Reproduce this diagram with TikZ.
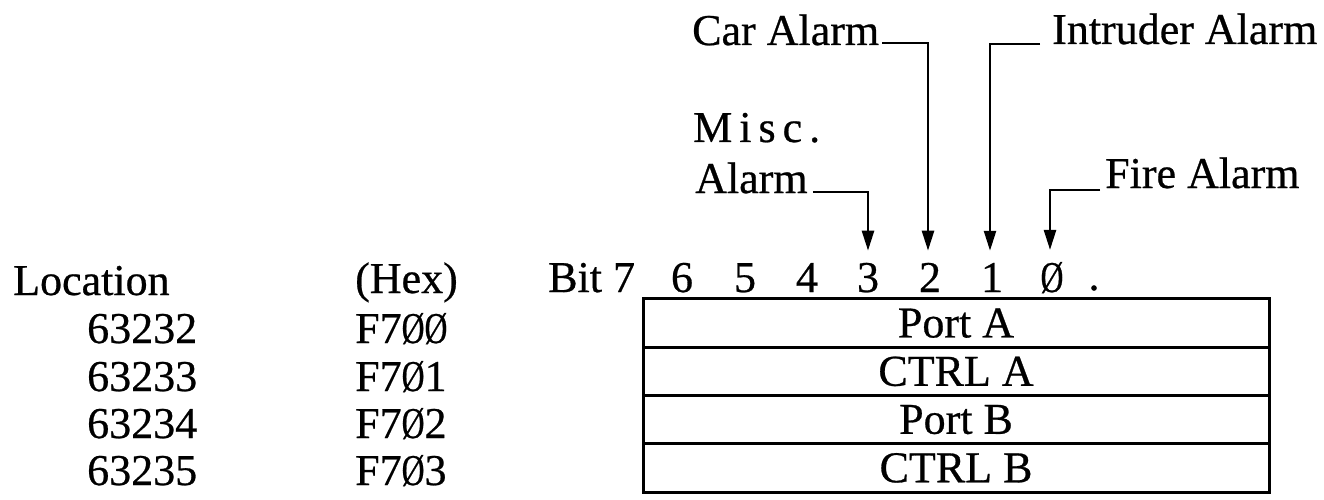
\documentclass[tikz,border=0pt]{standalone}
\usepackage{fontspec}
\usepackage{graphicx}
\setmainfont{Liberation Serif}[FakeBold=0.6]
\newfontfamily\heavyserif{Liberation Serif}[FakeBold=0.6]
\usetikzlibrary{arrows.meta}
\newcommand{\slz}{\scalebox{0.72}[1]{Ø}}
\tikzset{
  lbl/.style={inner sep=0pt, anchor=base west, font=\heavyserif\fontsize{44}{50}\selectfont},
  bitnum/.style={inner sep=0pt, anchor=base, font=\heavyserif\fontsize{44}{50}\selectfont},
  regrow/.style={draw, line width=3pt, minimum width=626pt, minimum height=48.25pt,
                 inner sep=0pt, font=\heavyserif\fontsize{44}{50}\selectfont},
  conn/.style={line width=2.5pt, -{Triangle[length=20pt,width=12pt]}}
}
\begin{document}
\begin{tikzpicture}[x=1pt,y=-1pt]
\useasboundingbox (0,0) rectangle (1324,500);
% column headings
\node[lbl] (loc) at (13,295) {Location};
\node[lbl] (hex) at (355,293) {(Hex)};
\node[lbl] (bit) at (548,292) {Bit 7};
% locations
\node[lbl] (l0) at (87,343) {63232};
\node[lbl] (l1) at (87,391) {63233};
\node[lbl] (l2) at (87,438) {63234};
\node[lbl] (l3) at (87,485) {63235};
\node[lbl] (h0) at (355,343) {F7\slz\slz};
\node[lbl] (h1) at (355,391) {F7\slz1};
\node[lbl] (h2) at (355,438) {F7\slz2};
\node[lbl] (h3) at (355,485) {F7\slz3};
% bit numbers
\node[bitnum] (b6) at (682,292) {6};
\node[bitnum] (b5) at (745,292) {5};
\node[bitnum] (b4) at (807,292) {4};
\node[bitnum] (b3) at (868,292) {3};
\node[bitnum] (b2) at (930,292) {2};
\node[bitnum] (b1) at (992,292) {1};
\node[bitnum] (b0) at (1052,292) {\slz};
\node[bitnum] (bdot) at (1094,290) {.};
% registers
\node[regrow] (pa) at (956,323.1) {Port A};
\node[regrow] (ca) at (956,371.4) {CTRL A};
\node[regrow] (pb) at (956,419.6) {Port B};
\node[regrow] (cb) at (956,467.9) {CTRL B};
% alarm labels
\node[lbl] (car) at (692,45) {Car Alarm};
\node[lbl] (intr) at (1052,44) {Intruder Alarm};
\node[lbl] (misc) at (693,142) {M\kern7pt i\kern7pt s\kern7pt c\kern7pt .};
\node[lbl] (misca) at (695,193) {Alarm};
\node[lbl] (fire) at (1105,188) {Fire Alarm};
% connectors
\draw[conn] ([xshift=3pt,yshift=2pt]car.base east) -| ([xshift=-2pt,yshift=12pt]b2.north);
\draw[conn] ([xshift=-12pt]intr.base west) -| ([xshift=-2pt,yshift=12pt]b1.north);
\draw[conn] ([xshift=5pt,yshift=1pt]misca.base east) -| ([yshift=12pt]b3.north);
\draw[conn] ([xshift=-5pt,yshift=-2pt]fire.base west) -| ([xshift=-2pt,yshift=12pt]b0.north);
\end{tikzpicture}
\end{document}
